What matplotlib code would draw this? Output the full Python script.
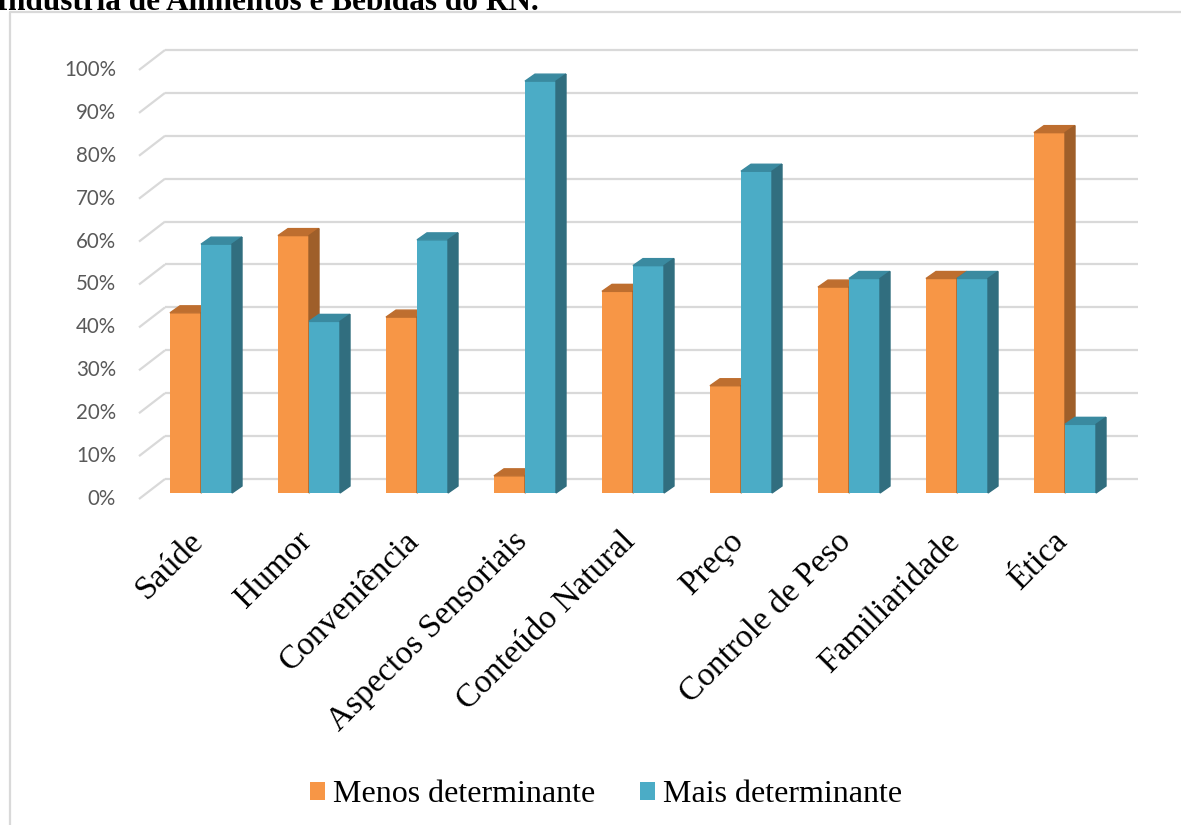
import numpy as np
import matplotlib.pyplot as plt
from matplotlib.patches import Polygon
from matplotlib.lines import Line2D

# data
categorias = ['Saúde', 'Humor', 'Conveniência', 'Aspectos Sensoriais',
              'Conteúdo Natural', 'Preço', 'Controle de Peso',
              'Familiaridade', 'Ética']
menos = [42, 60, 41, 4, 47, 25, 48, 50, 84]
mais = [58, 40, 59, 96, 53, 75, 50, 50, 16]
series = ['Menos determinante', 'Mais determinante']
yticks = np.arange(0, 101, 10)
titulo = 'Indústria de Alimentos e Bebidas do RN.'

W, H = 1181, 825
fig = plt.figure(figsize=(W/100, H/100), dpi=100)
ax = fig.add_axes([0, 0, 1, 1])

# layout: 108 px between groups, 4.29 px per percent
gx, gy = 108.0, 4.29
x0, y0 = 201, 493          # first group centre / front baseline (pixels)
ax.set_xlim(-x0/gx, (W - x0)/gx)
ax.set_ylim((y0 - H)/gy, y0/gy)
ax.axis('off')

def px(n):
    return n/gx

def py(n):
    return n/gy

# gridlines (floor-ish perspective) + y labels
grid_c = '#D9D9D9'
for v in yticks:
    ax.plot([px(139 - x0), px(165 - x0)], [v - py(6), v + py(14)],
            color=grid_c, lw=1.6, zorder=1, solid_capstyle='butt')
    ax.plot([px(165 - x0), px(1138 - x0)], [v + py(14), v + py(14)],
            color=grid_c, lw=1.6, zorder=1, solid_capstyle='butt')
    ax.text(px(116 - x0), v - py(6), f'{v}%', ha='right', va='center',
            fontsize=14.8, family='Lato', color='#595959')

# bars with pseudo-3d top and side
x = np.arange(len(categorias))
bw = px(31)
ddx, ddy = px(10), py(7)
cores = [('#F79646', '#BE6E2F', '#9F5F2A'),
         ('#4BACC6', '#3A8AA0', '#316E7F')]
for k, vals in enumerate([menos, mais]):
    front, top, side = cores[k]
    xl = x - bw + k*bw
    ax.bar(xl, vals, width=bw, align='edge', color=front, label=series[k],
           zorder=3)
    for xi, v in zip(xl, vals):
        ax.add_patch(Polygon([(xi, v), (xi + ddx, v + ddy),
                              (xi + bw + ddx, v + ddy), (xi + bw, v)],
                             closed=True, color=top, zorder=3))
        ax.add_patch(Polygon([(xi + bw, 0), (xi + bw + ddx, ddy),
                              (xi + bw + ddx, v + ddy), (xi + bw, v)],
                             closed=True, color=side, zorder=3))

# category labels, rotated
for xi, c in zip(x, categorias):
    ax.text(xi - px(13), -py(33), c, rotation=45, rotation_mode='anchor',
            ha='right', va='top', fontsize=24, family='Liberation Serif',
            color='black')

ax.legend(loc='center', bbox_to_anchor=(606/W, 1 - 795/H),
          bbox_transform=fig.transFigure, ncol=2, frameon=False,
          prop={'family': 'Liberation Serif', 'size': 23},
          handlelength=0.47, handleheight=0.47, handletextpad=0.25,
          columnspacing=1.4)

# chart border and cut-off title above it
fig.add_artist(Line2D([10/W, 10/W, 1], [0, 1 - 12/H, 1 - 12/H],
                      transform=fig.transFigure, color=grid_c, lw=1.6))
fig.text(-4/W, 1 - 9.5/H, titulo, fontweight='bold',
         family='Liberation Serif', fontsize=22.5, va='baseline')

fig.savefig('out.png', dpi=100)
